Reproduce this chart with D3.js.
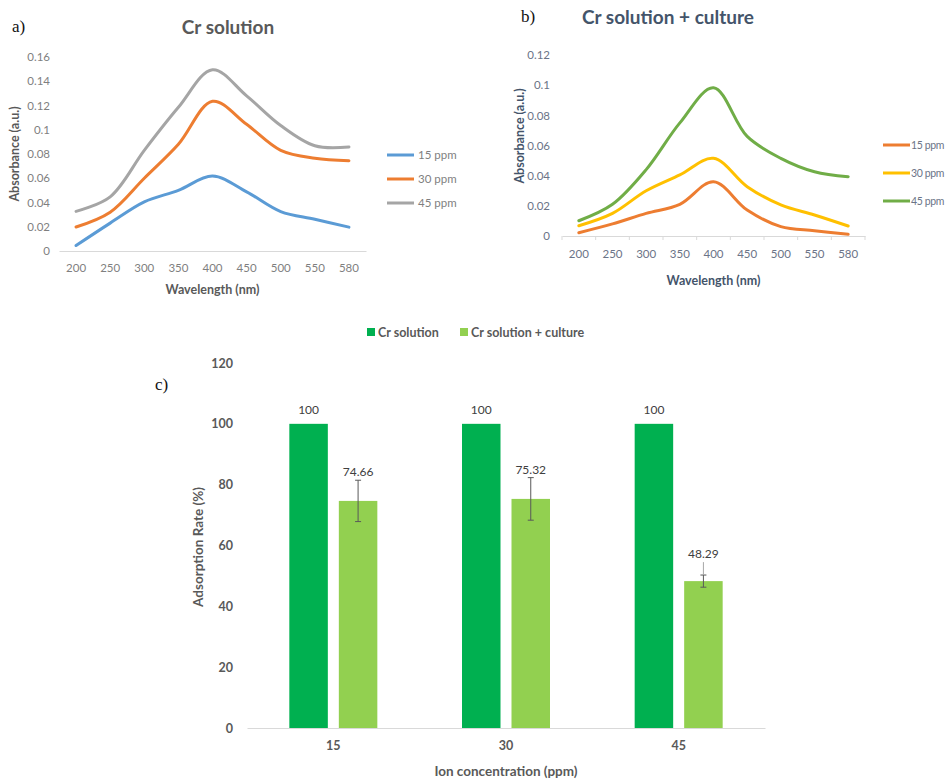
<!DOCTYPE html>
<html>
<head>
<meta charset="utf-8">
<script src="https://cdn.jsdelivr.net/npm/d3@7"></script>
<style>
  body { margin: 0; background: #fff; }
  text { font-family: Lato, "Open Sans", sans-serif; }
</style>
</head>
<body>
<svg id="fig" width="947" height="779"></svg>
<script>
// wavelengths shared by both spectra
var wavelengths = ["200", "250", "300", "350", "400", "450", "500", "550", "580"];

// a) Cr solution
var solution15 = [0.0045, 0.023, 0.0405, 0.050, 0.0618, 0.0488, 0.0325, 0.0262, 0.0197];
var solution30 = [0.0198, 0.032, 0.060, 0.088, 0.1235, 0.1045, 0.083, 0.0765, 0.0745];
var solution45 = [0.0327, 0.0447, 0.083, 0.1185, 0.1495, 0.128, 0.1035, 0.0868, 0.0858];

// b) Cr solution + culture
var culture15 = [0.0022, 0.008, 0.015, 0.021, 0.036, 0.0172, 0.0062, 0.0035, 0.0011];
var culture30 = [0.0068, 0.015, 0.030, 0.0405, 0.0515, 0.0327, 0.0206, 0.0139, 0.0066];
var culture45 = [0.0101, 0.021, 0.044, 0.075, 0.0983, 0.066, 0.0515, 0.0426, 0.0393];

// c) adsorption rate
var ionConc = ["15", "30", "45"];
var rateSolution = [100, 100, 100];
var rateCulture = [74.66, 75.32, 48.29];
var rateCultureErr = [6.8, 7.0, 2.0];

var svg = d3.select("#fig");

function fmtAbs(d) {
    return d === 0 ? "0" : String(+d.toFixed(2));
}

// draws one spectrum panel, opts hold the layout for that panel
function drawSpectrum(opts) {
    var g = svg.append("g");
    var x = d3.scaleBand().domain(wavelengths).range(opts.xRange);
    var y = d3.scaleLinear().domain([0, opts.yMax]).range(opts.yRange);

    // axes
    var yAxis = g.append("g")
        .attr("transform", "translate(" + opts.xRange[0] + ",0)")
        .call(d3.axisLeft(y).tickValues(d3.range(0, opts.yMax + 0.001, 0.02)).tickSize(0).tickPadding(opts.yPad).tickFormat(fmtAbs));
    yAxis.select(".domain").remove();
    yAxis.selectAll("text").attr("fill", opts.tickColor).style("font-size", "11.5px").style("font-family", "Lato, sans-serif");

    var xAxis = g.append("g")
        .attr("transform", "translate(0," + opts.yRange[0] + ")")
        .call(d3.axisBottom(x).tickSize(0).tickPadding(opts.xPad));
    xAxis.select(".domain").attr("stroke", "#d9d9d9");
    xAxis.selectAll("text").attr("fill", opts.tickColor).style("font-size", "11.5px").style("font-family", "Lato, sans-serif");

    if (opts.boundaryTicks) {
        // small marks between categories
        g.selectAll(".bt").data(d3.range(wavelengths.length + 1)).enter().append("line")
            .attr("x1", function (i) { return x.range()[0] + i * x.step(); })
            .attr("x2", function (i) { return x.range()[0] + i * x.step(); })
            .attr("y1", opts.yRange[0])
            .attr("y2", opts.yRange[0] + 4)
            .attr("stroke", "#d9d9d9");
    }

    var line = d3.line()
        .x(function (d, i) { return x(wavelengths[i]) + x.bandwidth() / 2; })
        .y(function (d) { return y(d); })
        .curve(d3.curveCatmullRom.alpha(0.5));

    opts.series.forEach(function (s) {
        g.append("path").datum(s.values)
            .attr("fill", "none")
            .attr("stroke", s.color)
            .attr("stroke-width", 3)
            .attr("stroke-linecap", "round")
            .attr("d", line);
    });

    // titles
    g.append("text").attr("x", opts.titleX).attr("y", opts.titleY)
        .attr("text-anchor", "middle").attr("fill", opts.titleColor)
        .style("font-size", "19px").style("font-weight", "bold")
        .text(opts.title);

    var xm = (opts.xRange[0] + opts.xRange[1]) / 2;
    g.append("text").attr("x", xm).attr("y", opts.xTitleY)
        .attr("text-anchor", "middle").attr("fill", opts.axisTitleColor)
        .style("font-size", "12.5px").style("font-weight", "bold")
        .text("Wavelength (nm)");

    g.append("text")
        .attr("transform", "translate(" + opts.yTitleX + "," + opts.yTitleY + ") rotate(-90)")
        .attr("text-anchor", "middle").attr("fill", opts.axisTitleColor)
        .style("font-size", "12.5px").style("font-weight", "bold")
        .text("Absorbance (a.u.)");

    // legend
    var lg = g.selectAll(".lg").data(opts.series).enter().append("g")
        .attr("transform", function (d, i) { return "translate(" + opts.legendX + "," + (opts.legendY + i * opts.legendGap) + ")"; });
    lg.append("line").attr("x1", 0).attr("x2", 27).attr("stroke", function (d) { return d.color; }).attr("stroke-width", 3);
    lg.append("text").attr("x", opts.legendTextX).attr("y", 4)
        .attr("fill", opts.tickColor).style("font-size", opts.legendSize)
        .style("letter-spacing", opts.legendSpacing)
        .text(function (d) { return d.name; });
}

drawSpectrum({
    xRange: [59, 366], yRange: [251, 57], yMax: 0.16, yPad: 9, xPad: 13,
    tickColor: "#7f7f7f", titleColor: "#595959", axisTitleColor: "#595959",
    title: "Cr solution", titleX: 228, titleY: 34,
    xTitleY: 294, yTitleX: 19, yTitleY: 154,
    legendX: 387, legendY: 155, legendGap: 24, legendTextX: 31,
    legendSize: "11.5px", legendSpacing: "0px",
    boundaryTicks: false,
    series: [
        { name: "15 ppm", color: "#5b9bd5", values: solution15 },
        { name: "30 ppm", color: "#ed7d31", values: solution30 },
        { name: "45 ppm", color: "#a5a5a5", values: solution45 }
    ]
});

drawSpectrum({
    xRange: [562, 865], yRange: [236, 55], yMax: 0.12, yPad: 12, xPad: 14,
    tickColor: "#6b7487", titleColor: "#44546a", axisTitleColor: "#44546a",
    title: "Cr solution + culture", titleX: 668, titleY: 24,
    xTitleY: 285, yTitleX: 524, yTitleY: 136,
    legendX: 883, legendY: 145, legendGap: 28, legendTextX: 28,
    legendSize: "10.5px", legendSpacing: "-0.4px",
    boundaryTicks: true,
    series: [
        { name: "15 ppm", color: "#ed7d31", values: culture15 },
        { name: "30 ppm", color: "#ffc000", values: culture30 },
        { name: "45 ppm", color: "#70ad47", values: culture45 }
    ]
});

// panel labels
[["a)", 12, 32], ["b)", 521, 22], ["c)", 155, 390]].forEach(function (p) {
    svg.append("text").attr("x", p[1]).attr("y", p[2])
        .style("font-family", "'Liberation Serif', serif").style("font-size", "17px")
        .attr("fill", "#111").text(p[0]);
});

// c) bar chart
var cg = svg.append("g");
var xc = d3.scaleBand().domain(ionConc).range([247, 765]);
var sub = d3.scaleBand().domain(["sol", "cult"]).range([0, 88]).paddingInner(11 / 49.5);
var yc = d3.scaleLinear().domain([0, 120]).range([728, 363]);
var barColors = { sol: "#00b050", cult: "#92d050" };

var ycAxis = cg.append("g").attr("transform", "translate(247,0)")
    .call(d3.axisLeft(yc).tickValues(d3.range(0, 121, 20)).tickSize(0).tickPadding(14));
ycAxis.select(".domain").remove();
ycAxis.selectAll("text").attr("fill", "#595959").style("font-size", "12.5px").style("font-weight", "bold").style("font-family", "Lato, sans-serif");

var xcAxis = cg.append("g").attr("transform", "translate(0,728)")
    .call(d3.axisBottom(xc).tickSize(0).tickPadding(13));
xcAxis.select(".domain").attr("stroke", "#d9d9d9");
xcAxis.selectAll("text").attr("fill", "#595959").style("font-size", "12.5px").style("font-weight", "bold").style("font-family", "Lato, sans-serif");

function groupStart(c) { return xc(c) + xc.bandwidth() / 2 - 44; }

cg.selectAll(".bsol").data(ionConc).enter().append("rect")
    .attr("x", function (c) { return groupStart(c) + sub("sol"); })
    .attr("y", function (c, i) { return yc(rateSolution[i]); })
    .attr("width", sub.bandwidth())
    .attr("height", function (c, i) { return yc(0) - yc(rateSolution[i]); })
    .attr("fill", barColors.sol);

cg.selectAll(".bcult").data(ionConc).enter().append("rect")
    .attr("x", function (c) { return groupStart(c) + sub("cult"); })
    .attr("y", function (c, i) { return yc(rateCulture[i]); })
    .attr("width", sub.bandwidth())
    .attr("height", function (c, i) { return yc(0) - yc(rateCulture[i]); })
    .attr("fill", barColors.cult);

// error bars on the culture series
ionConc.forEach(function (c, i) {
    var cx = groupStart(c) + sub("cult") + sub.bandwidth() / 2;
    var hi = yc(rateCulture[i] + rateCultureErr[i]);
    var lo = yc(rateCulture[i] - rateCultureErr[i]);
    cg.append("line").attr("x1", cx).attr("x2", cx).attr("y1", hi).attr("y2", lo).attr("stroke", "#595959");
    cg.append("line").attr("x1", cx - 3).attr("x2", cx + 3).attr("y1", hi).attr("y2", hi).attr("stroke", "#595959");
    cg.append("line").attr("x1", cx - 3).attr("x2", cx + 3).attr("y1", lo).attr("y2", lo).attr("stroke", "#595959");
});

// data labels
ionConc.forEach(function (c, i) {
    var sx = groupStart(c) + sub("sol") + sub.bandwidth() / 2;
    cg.append("text").attr("x", sx).attr("y", yc(rateSolution[i]) - 10)
        .attr("text-anchor", "middle").attr("fill", "#404040").style("font-size", "12px")
        .text(rateSolution[i]);
    var cx = groupStart(c) + sub("cult") + sub.bandwidth() / 2;
    var ly = i < 2 ? yc(rateCulture[i] + rateCultureErr[i]) - 4 : yc(rateCulture[i]) - 23;
    cg.append("text").attr("x", cx).attr("y", ly)
        .attr("text-anchor", "middle").attr("fill", "#404040").style("font-size", "12px")
        .text(rateCulture[i].toFixed(2));
    if (i === 2) {
        // leader line from the moved label down to the error bar
        cg.append("line").attr("x1", cx).attr("x2", cx)
            .attr("y1", ly + 4).attr("y2", yc(rateCulture[i] + rateCultureErr[i]))
            .attr("stroke", "#a6a6a6");
    }
});

// axis titles
cg.append("text").attr("transform", "translate(203,547) rotate(-90)")
    .attr("text-anchor", "middle").attr("fill", "#595959")
    .style("font-size", "13.5px").style("font-weight", "bold")
    .text("Adsorption Rate (%)");
cg.append("text").attr("x", 506).attr("y", 776)
    .attr("text-anchor", "middle").attr("fill", "#595959")
    .style("font-size", "13.5px").style("font-weight", "bold")
    .text("Ion concentration (ppm)");

// legend
var legendItems = [{ key: "sol", name: "Cr solution", x: 367 }, { key: "cult", name: "Cr solution + culture", x: 460 }];
var clg = cg.selectAll(".clg").data(legendItems).enter().append("g")
    .attr("transform", function (d) { return "translate(" + d.x + ",328)"; });
clg.append("rect").attr("width", 8).attr("height", 8).attr("fill", function (d) { return barColors[d.key]; });
clg.append("text").attr("x", 11).attr("y", 8.5).attr("fill", "#595959")
    .style("font-size", "12.5px").style("font-weight", "bold")
    .text(function (d) { return d.name; });
</script>
</body>
</html>
